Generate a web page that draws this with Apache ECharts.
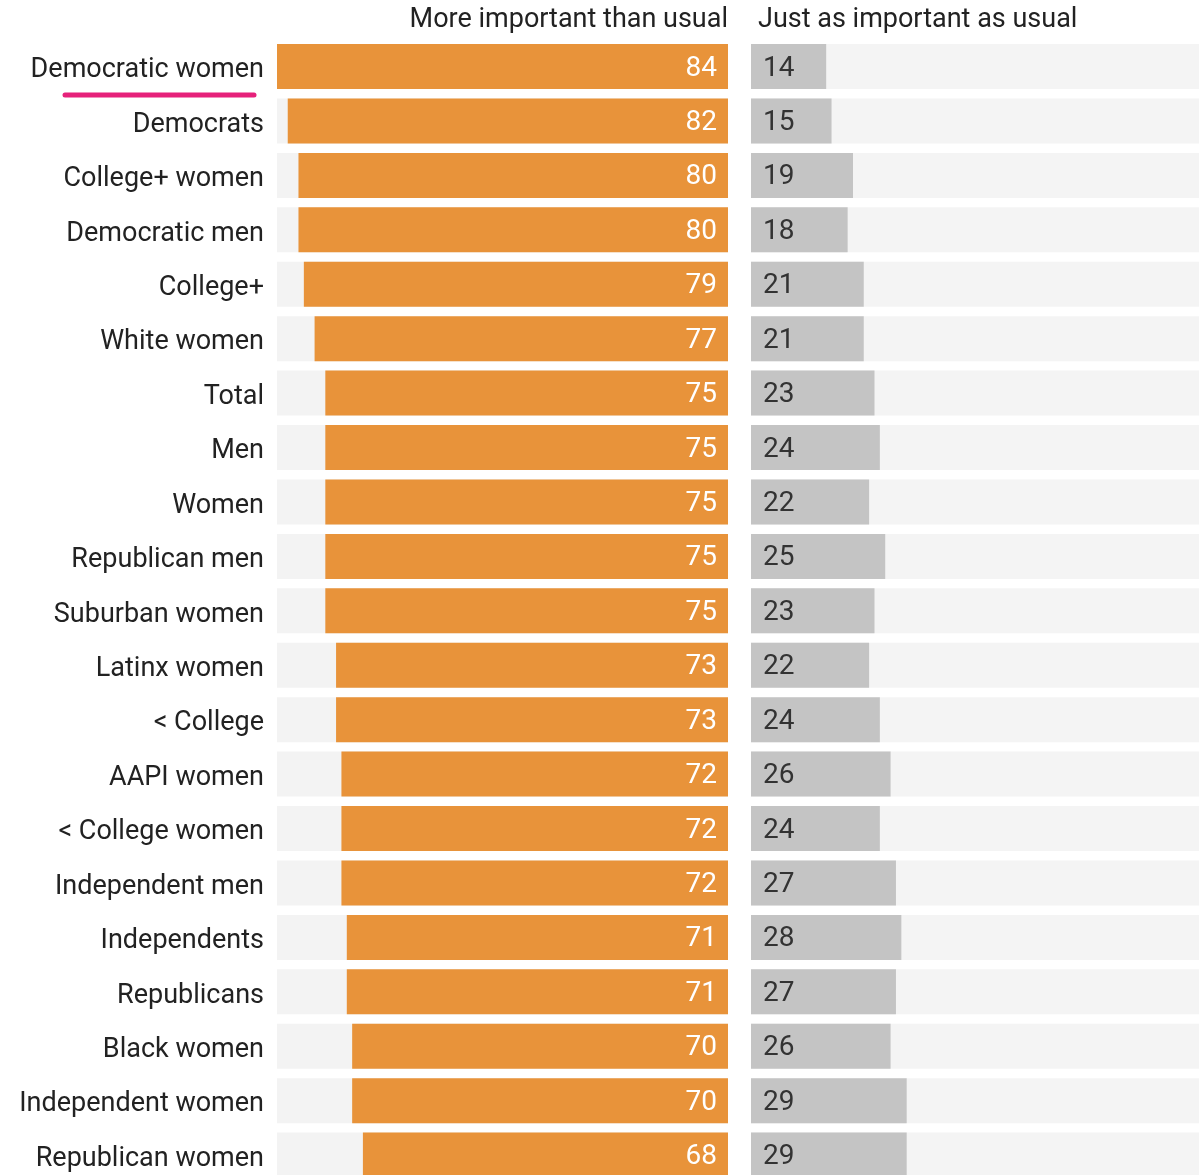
<!DOCTYPE html>
<html><head><meta charset="utf-8">
<script src="https://cdn.jsdelivr.net/npm/echarts@6/dist/echarts.min.js"></script>
<style>html,body{margin:0;padding:0;background:#fff}#c{width:1199px;height:1175px}</style>
</head><body><div id="c"></div>
<script>
const categories = ["Democratic women","Democrats","College+ women","Democratic men","College+","White women","Total","Men","Women","Republican men","Suburban women","Latinx women","< College","AAPI women","< College women","Independent men","Independents","Republicans","Black women","Independent women","Republican women"];
const moreImportant = [84,82,80,80,79,77,75,75,75,75,75,73,73,72,72,72,71,71,70,70,68];
const justAsImportant = [14,15,19,18,21,21,23,24,22,25,23,22,24,26,24,27,28,27,26,29,29];
const headers = ["More important than usual","Just as important as usual"];

const FONT = "Roboto";
const chart = echarts.init(document.getElementById('c'), null, {renderer:'canvas'});
const gridTop = 39.3, gridH = 54.43 * categories.length;
chart.setOption({
  animation:false,
  textStyle:{fontFamily:FONT},
  grid:[
    {left:277, width:451, top:gridTop, height:gridH, outerBoundsMode:'none', containLabel:false},
    {left:751, width:451, top:gridTop, height:gridH, outerBoundsMode:'none', containLabel:false}
  ],
  xAxis:[
    {gridIndex:0, type:'value', min:0, max:84, inverse:true, show:false},
    {gridIndex:1, type:'value', min:0, max:84, show:false}
  ],
  yAxis:[
    {gridIndex:0, type:'category', data:categories, inverse:true,
     axisLine:{show:false}, axisTick:{show:false},
     axisLabel:{margin:13, color:'#222', fontSize:27, fontFamily:FONT,
       formatter: v => '{a|' + v.replace(/[{}|]/g,'') + '}',
       rich:{a:{fontSize:27, fontFamily:FONT, color:'#222', padding:[8,0,0,0]}}}},
    {gridIndex:1, type:'category', data:categories, inverse:true, show:false}
  ],
  series:[
    {type:'bar', xAxisIndex:0, yAxisIndex:0, data:moreImportant, barWidth:45,
     itemStyle:{color:'#e8933a'}, showBackground:true, backgroundStyle:{color:'#f3f3f3'},
     label:{show:true, position:'insideRight', distance:11, offset:[0,2], color:'#fff', fontSize:28, fontFamily:FONT}},
    {type:'bar', xAxisIndex:1, yAxisIndex:1, data:justAsImportant, barWidth:45,
     itemStyle:{color:'#c4c4c4'}, showBackground:true, backgroundStyle:{color:'#f4f4f4'},
     label:{show:true, position:'insideLeft', distance:12, offset:[0,2], color:'#333', fontSize:28, fontFamily:FONT}}
  ],
  graphic:[
    {type:'text', right:1199-728, top:7, style:{text:headers[0], fill:'#222', font:'27px '+FONT, textAlign:'right'}},
    {type:'text', left:758, top:7, style:{text:headers[1], fill:'#222', font:'27px '+FONT}},
    {type:'line', shape:{x1:65, y1:95, x2:254, y2:95}, style:{stroke:'#e6217a', lineWidth:5, lineCap:'round'}}
  ]
});
</script></body></html>
